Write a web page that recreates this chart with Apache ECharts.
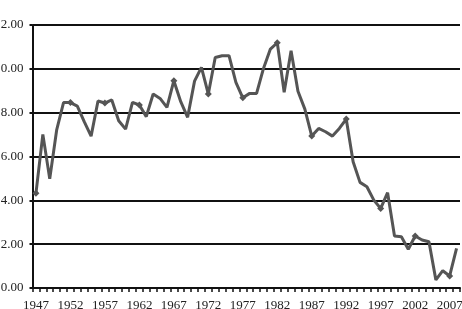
<!DOCTYPE html>
<html><head><meta charset="utf-8">
<script src="https://cdn.jsdelivr.net/npm/echarts@6/dist/echarts.min.js"></script>
<style>html,body{margin:0;padding:0;background:#fff}#c{width:462px;height:309px}</style>
</head><body><div id="c"></div>
<script>
const years = [];
for (let y = 1947; y <= 2008; y++) years.push(String(y));
const values = [
  4.32, 7.01, 4.98, 7.20, 8.46, 8.46, 8.30, 7.59, 6.93, 8.53,
  8.44, 8.58, 7.63, 7.25, 8.47, 8.35, 7.82, 8.85, 8.65, 8.24,
  9.46, 8.50, 7.79, 9.44, 10.07, 8.85, 10.52, 10.60, 10.60, 9.38,
  8.68, 8.88, 8.88, 10.02, 10.90, 11.19, 8.93, 10.82, 8.98, 8.16,
  6.93, 7.28, 7.13, 6.93, 7.28, 7.71, 5.76, 4.82, 4.62, 4.01,
  3.63, 4.35, 2.37, 2.34, 1.77, 2.37, 2.19, 2.11, 0.37, 0.79,
  0.55, 1.81
];
const yTicks = { min: 0, max: 12, interval: 2 };
const chart = echarts.init(document.getElementById('c'), null, {renderer: 'canvas'});
chart.setOption({
  animation: false,
  grid: { left: 32.5, right: 2, top: 25, bottom: 21, containLabel: false, outerBoundsMode: 'none' },
  xAxis: {
    type: 'category', data: years, boundaryGap: true,
    axisLine: { lineStyle: { color: '#111', width: 2 } },
    axisTick: { show: true, interval: 0, length: 4, alignWithLabel: false, lineStyle: { color: '#111', width: 1.5 } },
    axisLabel: { interval: 4, margin: 11, fontFamily: 'Liberation Serif', fontSize: 13, color: '#222' },
    splitLine: { show: false }
  },
  yAxis: {
    type: 'value', min: yTicks.min, max: yTicks.max, interval: yTicks.interval,
    axisLine: { show: true, lineStyle: { color: '#111', width: 2 } },
    axisTick: { show: true, length: 3, lineStyle: { color: '#111', width: 2 } },
    axisLabel: { margin: 9, fontFamily: 'Liberation Serif', fontSize: 13, color: '#222',
      formatter: v => v.toFixed(2) },
    splitLine: { show: true, lineStyle: { color: '#111', width: 2 } }
  },
  series: [{
    type: 'line', data: values,
    symbol: 'diamond', symbolSize: 7,
    lineStyle: { color: '#555', width: 3 },
    itemStyle: { color: '#555' }
  }]
});
</script></body></html>
